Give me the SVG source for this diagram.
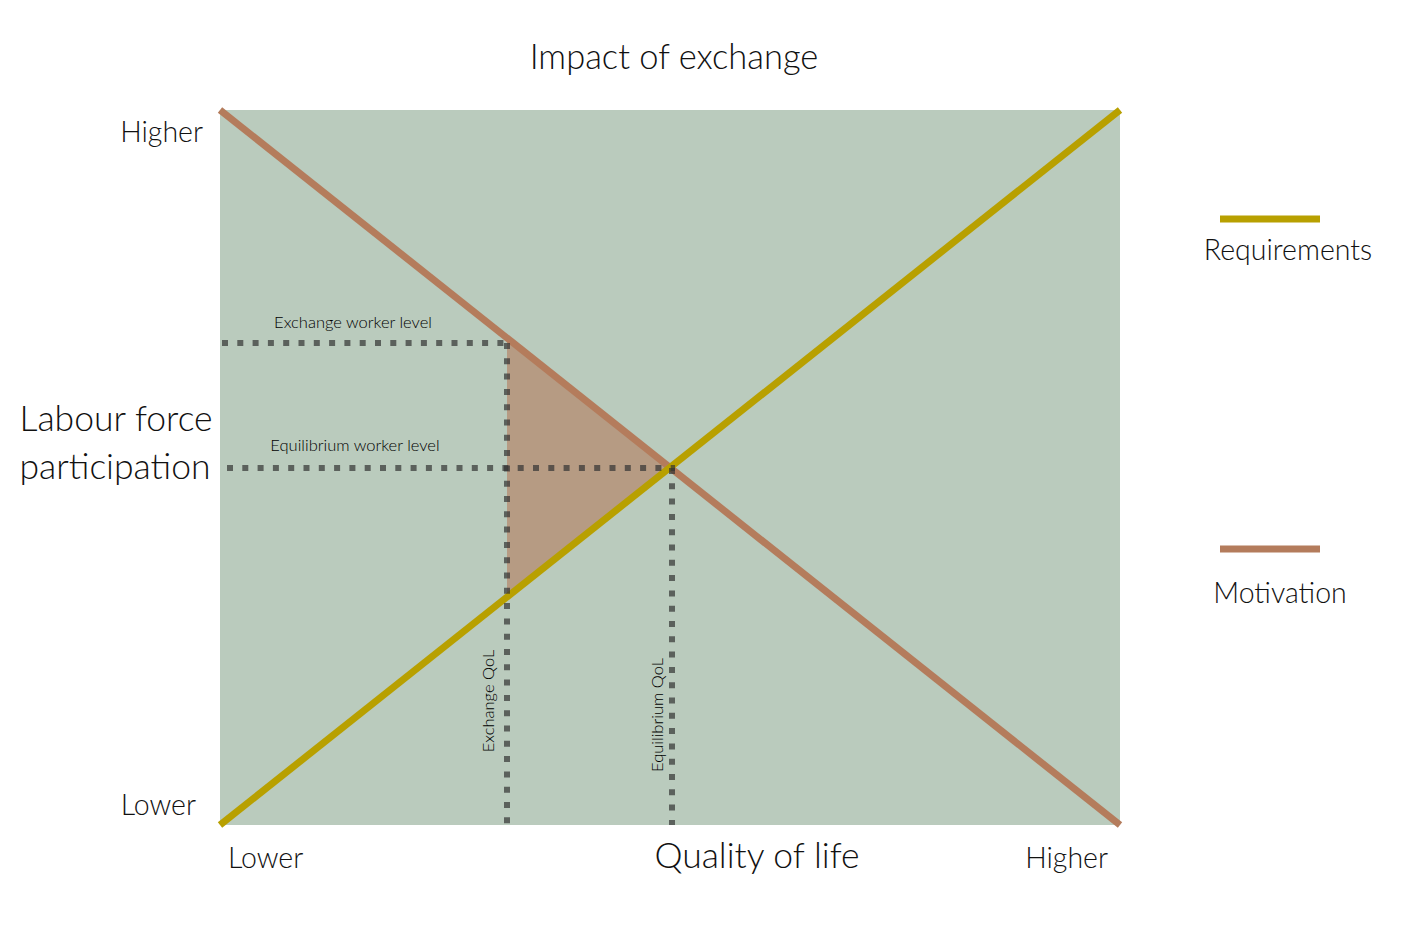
<svg xmlns="http://www.w3.org/2000/svg" width="1420" height="935" viewBox="0 0 1420 935">
<style>
text{font-family:Lato,"Noto Sans","Liberation Sans",sans-serif;font-weight:300;fill:#111;}
.axis{font-size:28.5px;}
.big{font-size:35.5px;}
.small{font-size:16.5px;fill:#000;}
.dot{stroke:#333;stroke-opacity:0.7;stroke-width:6;stroke-dasharray:6 9.3;fill:none;}
.req{stroke:#b8a000;stroke-width:7;fill:none;}
.mot{stroke:#b47c5c;stroke-width:7;fill:none;}
</style>
<rect width="1420" height="935" fill="#ffffff"/>
<g id="plot">
<rect x="220" y="110" width="900" height="715" fill="#bacbbd"/>
<polygon points="507,340 670,468 507,597" fill="#b47c5c" fill-opacity="0.6"/>
</g>
<g id="connectors">
<line class="mot" x1="220" y1="110" x2="1120" y2="825"/>
<line class="req" x1="220" y1="825" x2="1120" y2="110"/>
<line class="dot" x1="222" y1="343" x2="510" y2="343"/>
<line class="dot" x1="507" y1="343" x2="507" y2="825"/>
<line class="dot" x1="227" y1="468" x2="675" y2="468"/>
<line class="dot" x1="672" y1="468" x2="672" y2="825"/>
</g>
<g id="labels">
<text class="big" x="674" y="69" text-anchor="middle" style="font-size:34.5px">Impact of exchange</text>
<text class="axis" x="203" y="142" text-anchor="end">Higher</text>
<text class="axis" x="196" y="815" text-anchor="end">Lower</text>
<text class="axis" x="228" y="868">Lower</text>
<text class="axis" x="1108" y="868" text-anchor="end">Higher</text>
<text class="big" x="757" y="868" text-anchor="middle">Quality of life</text>
<text class="big" x="116" y="431" text-anchor="middle">Labour force</text>
<text class="big" x="115" y="479" text-anchor="middle">participation</text>
<text class="small" x="353" y="328" text-anchor="middle">Exchange worker level</text>
<text class="small" x="355" y="451" text-anchor="middle">Equilibrium worker level</text>
<text class="small" transform="translate(494,701) rotate(-90)" text-anchor="middle">Exchange QoL</text>
<text class="small" transform="translate(663,715) rotate(-90)" text-anchor="middle">Equilibrium QoL</text>
</g>
<g id="legend-requirements">
<line x1="1220" y1="219" x2="1320" y2="219" stroke="#b8a000" stroke-width="7"/>
<text class="axis" x="1288" y="260" text-anchor="middle">Requirements</text>
</g>
<g id="legend-motivation">
<line x1="1220" y1="549" x2="1320" y2="549" stroke="#b47c5c" stroke-width="7"/>
<text class="axis" x="1280" y="603" text-anchor="middle">Motivation</text>
</g>
</svg>
